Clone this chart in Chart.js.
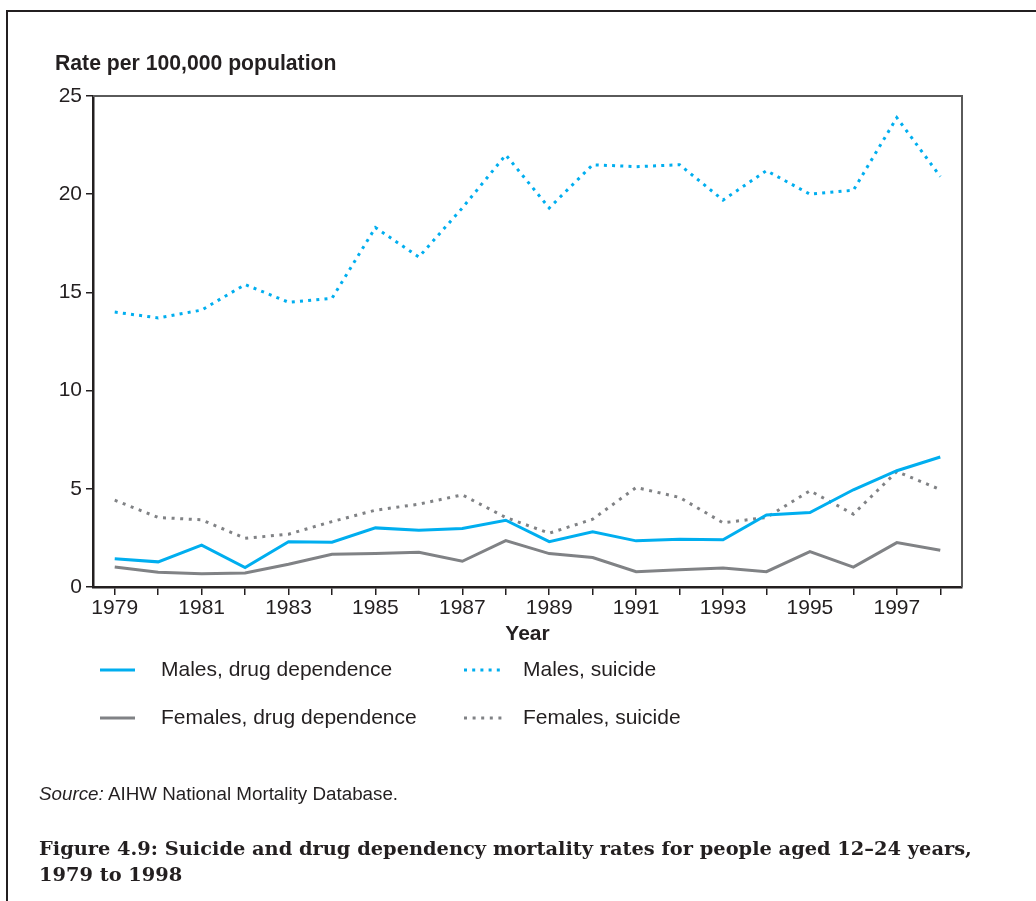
<!DOCTYPE html>
<html>
<head>
<meta charset="utf-8">
<title>Suicide and drug dependency mortality rates, 12–24 years</title>
<script src="https://cdn.jsdelivr.net/npm/chart.js@4.4.1/dist/chart.umd.min.js"></script>
<style>
  html, body { margin: 0; padding: 0; background: #fff; }
  body { width: 1036px; height: 901px; position: relative; overflow: hidden;
         font-family: "Liberation Sans", Arial, sans-serif; color: #231f20; }
  #frame { position: absolute; left: 6px; top: 10px; width: 1100px; height: 1000px;
           border-left: 2px solid #231f20; border-top: 2px solid #231f20; }
  #chart { position: absolute; left: 0; top: 0; }
  #ytitle { position: absolute; left: 55px; top: 51px; font-weight: bold; font-size: 21.2px; white-space: nowrap; }
  #source { position: absolute; left: 39px; top: 783px; font-size: 18.8px; white-space: nowrap; }
  #caption { position: absolute; left: 39px; top: 836px; font-family: "DejaVu Serif", serif;
             font-weight: bold; font-size: 19.4px; line-height: 26px; white-space: nowrap; }
</style>
</head>
<body>
<div id="frame"></div>
<canvas id="chart" width="1036" height="901"></canvas>
<div id="ytitle">Rate per 100,000 population</div>
<div id="source"><i>Source:</i> AIHW National Mortality Database.</div>
<div id="caption">Figure 4.9: Suicide and drug dependency mortality rates for people aged 12–24 years,<br>1979 to 1998</div>
<script>
// Years on the x axis
const years = ['1979','1980','1981','1982','1983','1984','1985','1986','1987','1988',
               '1989','1990','1991','1992','1993','1994','1995','1996','1997','1998'];

// Rates per 100,000 population
const malesDrug      = [1.44, 1.28, 2.13, 0.99, 2.30, 2.28, 3.01, 2.89, 2.98, 3.40,
                        2.31, 2.81, 2.35, 2.43, 2.40, 3.67, 3.79, 4.95, 5.92, 6.62];
const malesSuicide   = [14.0, 13.7, 14.1, 15.4, 14.5, 14.7, 18.3, 16.8, 19.3, 22.0,
                        19.3, 21.5, 21.4, 21.5, 19.7, 21.2, 20.0, 20.2, 23.9, 20.9];
const femalesDrug    = [1.02, 0.75, 0.68, 0.71, 1.16, 1.67, 1.70, 1.77, 1.31, 2.36,
                        1.70, 1.50, 0.78, 0.88, 0.97, 0.78, 1.80, 1.01, 2.26, 1.87];
const femalesSuicide = [4.42, 3.54, 3.42, 2.48, 2.69, 3.33, 3.91, 4.22, 4.69, 3.54,
                        2.74, 3.45, 5.07, 4.56, 3.27, 3.54, 4.90, 3.71, 5.88, 4.96];

// Y axis ticks
const yTicks = [0, 5, 10, 15, 20, 25];

const seriesLabels = ['Males, drug dependence', 'Males, suicide',
                      'Females, drug dependence', 'Females, suicide'];

const BLUE = '#00aeef';
const GREY = '#808285';
const INK = '#231f20';
const FONT = '"Liberation Sans", Arial, sans-serif';
const DOTS = [3, 5.2];

// Outline on the top and right of the plot area
const plotFrame = {
  id: 'plotFrame',
  beforeDatasetsDraw(chart) {
    const { ctx, chartArea: a } = chart;
    ctx.save();
    ctx.strokeStyle = '#5a5a5a';
    ctx.lineWidth = 2;
    ctx.beginPath();
    ctx.moveTo(a.left, a.top);
    ctx.lineTo(a.right, a.top);
    ctx.lineTo(a.right, a.bottom);
    ctx.stroke();
    ctx.restore();
  }
};

// Two-column key below the axis
const keyLayout = [
  { x: 100, y: 670, textX: 161 },
  { x: 464, y: 670, textX: 523 },
  { x: 100, y: 718, textX: 161 },
  { x: 464, y: 718, textX: 523 }
];
const keyPlugin = {
  id: 'twoColumnKey',
  afterDraw(chart) {
    const ctx = chart.ctx;
    chart.data.datasets.forEach((ds, i) => {
      const k = keyLayout[i];
      const dash = ds.borderDash || [];
      // dotted samples end on a full dot
      const len = dash.length ? 4 * (dash[0] + dash[1]) + dash[0] : 35;
      ctx.save();
      ctx.strokeStyle = ds.borderColor;
      ctx.lineWidth = ds.borderWidth;
      ctx.lineCap = 'butt';
      ctx.setLineDash(dash);
      ctx.beginPath();
      ctx.moveTo(k.x, k.y);
      ctx.lineTo(k.x + len, k.y);
      ctx.stroke();
      ctx.setLineDash([]);
      ctx.fillStyle = INK;
      ctx.font = '21px ' + FONT;
      ctx.textBaseline = 'middle';
      ctx.textAlign = 'left';
      ctx.fillText(ds.label, k.textX, k.y);
      ctx.restore();
    });
  }
};

new Chart(document.getElementById('chart'), {
  type: 'line',
  data: {
    labels: years,
    datasets: [
      { label: seriesLabels[0], data: malesDrug, borderColor: BLUE, borderWidth: 3 },
      { label: seriesLabels[1], data: malesSuicide, borderColor: BLUE, borderWidth: 3, borderDash: DOTS },
      { label: seriesLabels[2], data: femalesDrug, borderColor: GREY, borderWidth: 3 },
      { label: seriesLabels[3], data: femalesSuicide, borderColor: GREY, borderWidth: 3, borderDash: [3, 5.6] }
    ]
  },
  options: {
    responsive: false,
    animation: false,
    devicePixelRatio: 1,
    layout: { padding: { left: 0, top: 96, right: 74, bottom: 254 } },
    elements: {
      line: { tension: 0, fill: false, borderCapStyle: 'butt', borderJoinStyle: 'miter' },
      point: { radius: 0, hoverRadius: 0 }
    },
    plugins: {
      legend: { display: false },
      tooltip: { enabled: false },
      title: { display: false }
    },
    scales: {
      x: {
        type: 'category',
        offset: true,
        grid: { display: true, drawOnChartArea: false, drawTicks: true, tickLength: 8,
                offset: false, color: INK, lineWidth: 1.5 },
        border: { display: true, color: INK, width: 2.5 },
        ticks: {
          autoSkip: false, maxRotation: 0, minRotation: 0, padding: 1, color: INK,
          font: { size: 21, family: FONT },
          callback: (v, i) => (i % 2 === 0 ? years[i] : '')
        },
        title: { display: true, text: 'Year', color: INK,
                 font: { size: 21, weight: 'bold', family: FONT },
                 padding: { top: 0, bottom: 0 } },
        afterFit(scale) { scale.height = 60; }
      },
      y: {
        min: yTicks[0],
        max: yTicks[yTicks.length - 1],
        afterBuildTicks(scale) { scale.ticks = yTicks.map(v => ({ value: v })); },
        grid: { display: true, drawOnChartArea: false, drawTicks: true, tickLength: 7,
                color: INK, lineWidth: 1.5 },
        border: { display: true, color: INK, width: 2.5 },
        ticks: { padding: 4, color: INK, font: { size: 21, family: FONT } },
        afterFit(scale) { scale.width = 93; }
      }
    }
  },
  plugins: [plotFrame, keyPlugin]
});
</script>
</body>
</html>
